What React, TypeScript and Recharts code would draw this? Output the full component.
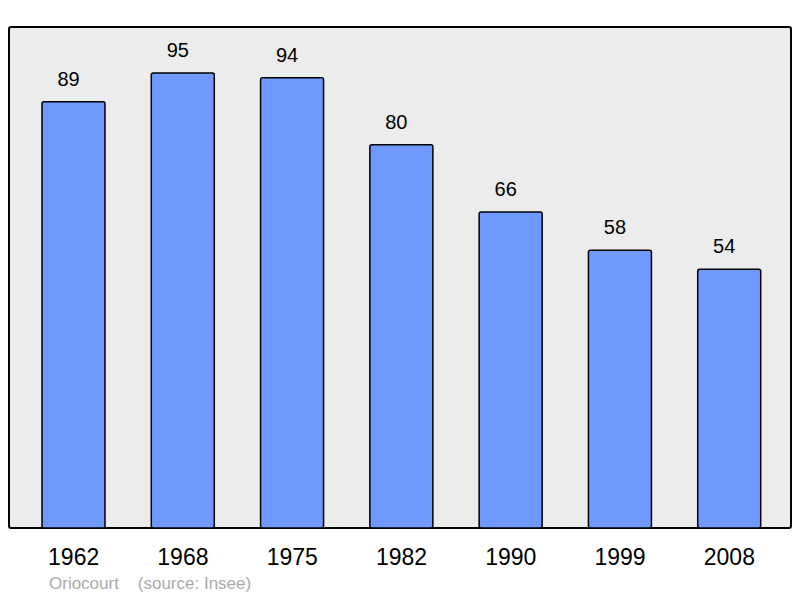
import { BarChart, Bar, XAxis, YAxis, LabelList } from "recharts";

const years = ["1962", "1968", "1975", "1982", "1990", "1999", "2008"];
const population = [89, 95, 94, 80, 66, 58, 54];

const data = years.map((year, i) => ({ year, population: population[i] }));

const font = "'Liberation Sans', Arial, sans-serif";

// value above each bar, nudged a little left like the original
const ValueLabel = (props: any) => {
  const { x, y, width, value } = props;
  return (
    <text
      x={x + width / 2 - 5}
      y={y - 16}
      textAnchor="middle"
      fill="#000"
      fontSize={20}
      fontFamily={font}
    >
      {value}
    </text>
  );
};

export default function App() {
  return (
    <div style={{ position: "absolute", left: 0, top: 0, width: 800, height: 598, background: "#fff", fontFamily: font }}>
      {/* grey plot box */}
      <div
        style={{
          position: "absolute",
          left: 8,
          top: 26,
          width: 780,
          height: 499,
          background: "#ececec",
          border: "2px solid #000",
          borderRadius: 3,
        }}
      />
      <div style={{ position: "absolute", left: 0, top: 0 }}>
        <BarChart
          width={800}
          height={598}
          data={data}
          margin={{ top: 27, right: 9, bottom: 0, left: 9 }}
          barCategoryGap={0}
        >
          <XAxis
            dataKey="year"
            axisLine={false}
            tickLine={false}
            padding={{ left: 10, right: 7 }}
            tick={{ fill: "#000", fontSize: 23, fontFamily: font }}
            tickMargin={15}
            height={70}
          />
          <YAxis hide domain={[0, 104.6]} />
          <Bar
            dataKey="population"
            fill="#7099ff"
            stroke="#000"
            strokeWidth={1.5}
            barSize={63}
            radius={2}
            isAnimationActive={false}
          >
            <LabelList dataKey="population" content={<ValueLabel />} />
          </Bar>
        </BarChart>
      </div>
      <div
        style={{
          position: "absolute",
          left: 49,
          top: 574,
          fontSize: 17,
          color: "#aaa",
          whiteSpace: "pre",
        }}
      >
        {"Oriocourt    (source: Insee)"}
      </div>
    </div>
  );
}
